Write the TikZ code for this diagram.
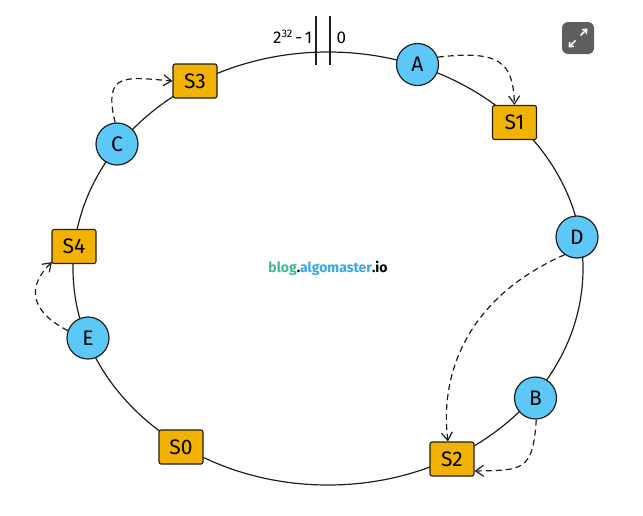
\documentclass[tikz,border=0pt]{standalone}
\usepackage{fontspec}
\setmainfont{Fira Sans}
\usetikzlibrary{arrows.meta}
\definecolor{nodeblue}{HTML}{5BC8F7}
\definecolor{srvgold}{HTML}{F2B300}
\definecolor{inkc}{HTML}{1E1E1E}
\definecolor{brandgreen}{HTML}{3DBB8C}
\definecolor{brandblue}{HTML}{3AA8E6}
\definecolor{icongray}{HTML}{5E5E5E}
\tikzset{
  vnode/.style={circle, draw=inkc, line width=1.2pt, fill=nodeblue, minimum size=42pt, inner sep=0pt, font=\fontsize{21}{24}\selectfont},
  server/.style={rectangle, rounded corners=2pt, draw=inkc, line width=1.1pt, fill=srvgold, minimum width=44pt, minimum height=34pt, inner sep=0pt, font=\fontsize{21}{24}\selectfont},
  ring/.style={draw=inkc, line width=1.2pt},
  maparrow/.style={draw=inkc, line width=1.2pt, dash pattern=on 6pt off 4pt, -{Straight Barb[length=8pt,width=11pt]}},
}
\begin{document}
\begin{tikzpicture}[x=1pt,y=-1pt]
\useasboundingbox (0,0) rectangle (643,515);
% ring
\coordinate (ringc) at (328,268.5);
\draw[ring] (ringc) ellipse [x radius=255pt, y radius=216.5pt];
% ticks at top
\coordinate (t1a) at (316,16); \coordinate (t1b) at (316,65);
\coordinate (t2a) at (330,16); \coordinate (t2b) at (330,65);
\draw[inkc, line width=1.1pt] (t1a) -- (t1b);
\draw[inkc, line width=1.1pt] (t2a) -- (t2b);
\node[anchor=base east, inner sep=0pt, font=\fontsize{17}{19}\selectfont] (maxlab) at (312.5,43) {2\raisebox{6pt}{\fontsize{11}{12}\selectfont 32}\,-\,1};
\node[anchor=base west, inner sep=0pt, font=\fontsize{17}{19}\selectfont] (zerolab) at (336.5,43) {0};
% nodes
\node[vnode] (A) at (417.5,64.5) {A};
\node[server] (S1) at (514.5,122.5) {S1};
\node[vnode] (D) at (577,237) {D};
\node[vnode] (B) at (535.5,398) {B};
\node[server] (S2) at (452,459) {S2};
\node[server] (S0) at (181,447) {S0};
\node[vnode] (E) at (88,338) {E};
\node[server] (S4) at (74,246.5) {S4};
\node[vnode] (C) at (117,144) {C};
\node[server] (S3) at (195,81) {S3};
% dashed mapping arrows
\draw[maparrow] (A.20) .. controls (500,50) and (513,62) .. (S1.north);
\draw[maparrow] (C.95) .. controls (103,72) and (125,77) .. (S3.west);
\draw[maparrow] (E.160) .. controls (28,310) and (28,285) .. ([xshift=-22pt,yshift=2pt]S4.south);
\draw[maparrow] (D.235) .. controls (462,300) and (440,380) .. ([xshift=-4pt]S2.north);
\draw[maparrow] (B.272) .. controls (533,472) and (522,470) .. ([yshift=-12pt]S2.east);
% watermark
\node[font=\fontsize{14}{16}\selectfont\bfseries, inner sep=0pt] (brand) at (328,268) {\textcolor{brandgreen}{blog}.\textcolor{brandblue}{algomaster}.io};
% expand icon
\fill[icongray, rounded corners=6pt] (562,22) rectangle (594,54);
\coordinate (ic) at (578,38);
\draw[white, line width=1.6pt, -{Straight Barb[length=3.5pt,width=6pt]}] ([shift={(2.5,-2.5)}]ic) -- ([shift={(9.5,-9.5)}]ic);
\draw[white, line width=1.6pt, -{Straight Barb[length=3.5pt,width=6pt]}] ([shift={(-2.5,2.5)}]ic) -- ([shift={(-9.5,9.5)}]ic);
\end{tikzpicture}
\end{document}
